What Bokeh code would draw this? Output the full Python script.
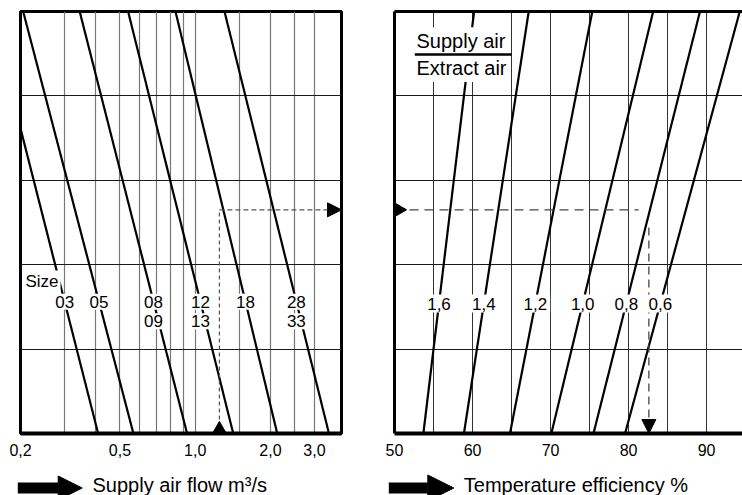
import math
from bokeh.plotting import figure
from bokeh.layouts import row, column
from bokeh.models import FixedTicker, Label, Arrow, NormalHead, LinearAxis, Grid
from bokeh.core.properties import value
from bokeh.embed import file_html
from bokeh.resources import INLINE

# ---------------- data ----------------
# Left chart: supply air flow (m3/s, log axis); vertical axis is unitless 0..5
size_row1 = ["03", "05", "08", "12", "18", "28"]
size_row2 = ["", "", "09", "13", "", "33"]
flow_at_top = [0.152, 0.205, 0.345, 0.539, 0.834, 1.31]      # flow where each size line meets the top
flow_at_bottom = [0.409, 0.566, 0.928, 1.42, 2.13, 3.43]     # flow where each size line meets the bottom
flow_ticks = [0.2, 0.5, 1.0, 2.0, 3.0]
flow_tick_labels = ["0,2", "0,5", "1,0", "2,0", "3,0"]
flow_grid = [0.3, 0.4, 0.5, 0.6, 0.7, 0.8, 0.9, 1.0, 1.5, 2.0, 2.5, 3.0]
flow_range = (0.2, 3.85)

# Right chart: temperature efficiency (%) for supply/extract air ratios
ratio_labels = ["1,6", "1,4", "1,2", "1,0", "0,8", "0,6"]
eff_at_top = [60.2, 67.2, 75.35, 83.15, 89.15, 94.25]
eff_at_bottom = [53.7, 58.9, 64.8, 70.1, 75.5, 79.55]
eff_ticks = [50, 60, 70, 80, 90]
eff_grid = [55, 60, 65, 70, 75, 80, 85, 90]
eff_range = (50, 94.6)

level_range = (0, 5)
level_grid = [1, 2, 3, 4]

# worked example (dashed reading lines)
example_flow = 1.25
example_level = 2.65
example_eff_h_end = 81.3
example_eff = 82.6
example_eff_v_start = 2.44

# label rows (vertical position in chart units)
label_row1_y = 1.56
label_row2_y = 1.33
ratio_label_y = 1.54
size_word_y = 1.796
supply_y = 4.647
extract_y = 4.332
fraction_bar_y = 4.49
fraction_bar_x = (52.6, 65.0)

FONT = "Liberation Sans"
H_MAIN = 467
H_TITLE = 28
TOP, BOTTOM = 11, 34
FRAME_H = H_MAIN - TOP - BOTTOM
px_per_level = FRAME_H / (level_range[1] - level_range[0])
W1, W2 = 372, 370


def log_at(xt, xb, y):
    lt, lb = math.log10(xt), math.log10(xb)
    return 10 ** (lb + (lt - lb) * y / level_range[1])


def lin_at(xt, xb, y):
    return xb + (xt - xb) * y / level_range[1]


def style_bottom_axis(ax):
    ax.axis_line_width = 4
    ax.axis_line_color = "black"
    ax.major_tick_line_color = None
    ax.minor_tick_line_color = None
    ax.major_tick_out = 0
    ax.minor_tick_out = 0
    ax.major_tick_in = 0
    ax.minor_tick_in = 0
    ax.major_label_text_font = FONT
    ax.major_label_text_font_size = "16px"
    ax.major_label_text_color = "black"
    ax.major_label_standoff = 10


def border_axis(ax):
    ax.ticker = FixedTicker(ticks=[], minor_ticks=[])
    ax.axis_line_width = 3
    ax.axis_line_color = "black"
    ax.major_tick_line_color = None
    ax.minor_tick_line_color = None
    ax.major_tick_out = 0
    ax.minor_tick_out = 0
    ax.major_tick_in = 0
    ax.minor_tick_in = 0
    ax.major_label_standoff = 0


def add_label(p, x, y, text, size="17px", align="center", x_offset=0, pad=2):
    p.add_layout(Label(x=x, y=y, text=text, x_offset=x_offset, text_align=align,
                       text_baseline="middle", text_font=FONT, text_font_size=size,
                       text_color="black", background_fill_color="white",
                       background_fill_alpha=1.0, padding=pad))


# ---------------- left chart ----------------
p1 = figure(width=W1, height=H_MAIN, x_axis_type="log", x_range=flow_range, y_range=level_range,
            output_backend="svg", toolbar_location=None, y_axis_location=None,
            min_border_left=20, min_border_right=31, min_border_top=TOP, min_border_bottom=BOTTOM)
p1.grid.visible = False
p1.add_layout(Grid(dimension=0, ticker=FixedTicker(ticks=flow_grid), grid_line_color="#777777",
                   grid_line_width=1.2))
p1.add_layout(Grid(dimension=1, ticker=FixedTicker(ticks=level_grid), grid_line_color="#1a1a1a",
                   grid_line_width=1))
p1.outline_line_color = "black"
p1.outline_line_width = 3
p1.outline_line_alpha = 1
p1.xaxis.ticker = FixedTicker(ticks=flow_ticks, minor_ticks=[])
p1.xaxis.major_label_overrides = dict(zip(flow_ticks, flow_tick_labels))
style_bottom_axis(p1.xaxis[0])

n = len(flow_at_top)
p1.segment(x0=flow_at_top, y0=[level_range[1]] * n, x1=flow_at_bottom, y1=[level_range[0]] * n,
           line_color="black", line_width=2.2)

# dashed reading line
p1.line(x=[example_flow, example_flow], y=[level_range[0], example_level],
        line_dash="4 3", line_color="#555555", line_width=1.2)
p1.add_layout(Arrow(x_start=example_flow, y_start=example_level, x_end=flow_range[1], y_end=example_level,
                    line_dash="5 3", line_color="#555555", line_width=1.2,
                    end=NormalHead(size=14, fill_color="black", line_color="black", line_width=1)))
p1.scatter(x=[example_flow], y=[level_range[0] + 4.0 / px_per_level], marker="triangle",
           size=14, fill_color="black", line_color="black")

# size labels (white boxes)
lab1_x = [log_at(t, b, label_row1_y) for t, b in zip(flow_at_top, flow_at_bottom)]
for x, s1, s2 in zip(lab1_x, size_row1, size_row2):
    add_label(p1, x, label_row1_y, s1)
    if s2:
        add_label(p1, x, label_row2_y, s2)
add_label(p1, flow_range[0], size_word_y, "Size", align="left", x_offset=3)

# ---------------- right chart ----------------
p2 = figure(width=W2, height=H_MAIN, x_range=eff_range, y_range=level_range,
            output_backend="svg", toolbar_location=None,
            min_border_left=22, min_border_right=0, min_border_top=TOP, min_border_bottom=BOTTOM)
p2.grid.visible = False
p2.add_layout(Grid(dimension=0, ticker=FixedTicker(ticks=eff_grid), grid_line_color="#333333",
                   grid_line_width=1))
p2.add_layout(Grid(dimension=1, ticker=FixedTicker(ticks=level_grid), grid_line_color="#1a1a1a",
                   grid_line_width=1))
p2.outline_line_color = None
p2.xaxis.ticker = FixedTicker(ticks=eff_ticks, minor_ticks=[])
style_bottom_axis(p2.xaxis[0])
border_axis(p2.yaxis[0])
top_axis = LinearAxis()
border_axis(top_axis)
p2.add_layout(top_axis, "above")

m = len(eff_at_top)
p2.segment(x0=eff_at_top, y0=[level_range[1]] * m, x1=eff_at_bottom, y1=[level_range[0]] * m,
           line_color="black", line_width=2.2)

# dashed reading lines
p2.line(x=[eff_range[0], example_eff_h_end], y=[example_level, example_level],
        line_dash="9 6", line_color="#444444", line_width=1.3)
p2.scatter(x=[eff_range[0] + 4.0 / (348 / (eff_range[1] - eff_range[0]))], y=[example_level],
           marker="triangle", angle=-math.pi / 2, size=14, fill_color="black", line_color="black")
p2.add_layout(Arrow(x_start=example_eff, y_start=example_eff_v_start, x_end=example_eff, y_end=level_range[0],
                    line_dash="8 5", line_color="#444444", line_width=1.3,
                    end=NormalHead(size=14, fill_color="black", line_color="black", line_width=1)))

lab_r_x = [lin_at(t, b, ratio_label_y) for t, b in zip(eff_at_top, eff_at_bottom)]
for x, s in zip(lab_r_x, ratio_labels):
    add_label(p2, x, ratio_label_y, s, pad=3)

add_label(p2, eff_range[0], supply_y, "Supply air", size="20px", align="left", x_offset=19, pad=3)
add_label(p2, eff_range[0], extract_y, "Extract air", size="20px", align="left", x_offset=19, pad=3)
p2.add_layout(Arrow(x_start=fraction_bar_x[0], y_start=fraction_bar_y, x_end=fraction_bar_x[1],
                    y_end=fraction_bar_y, start=None, end=None, line_color="black", line_width=2.5))


# ---------------- axis titles with arrows ----------------
def title_fig(width, arrow_x0, arrow_x1, head, text_x, text):
    q = figure(width=width, height=H_TITLE, x_range=(0, width), y_range=(0, H_TITLE),
               output_backend="svg", toolbar_location=None, x_axis_location=None,
               y_axis_location=None, min_border=0)
    q.min_border_left = q.min_border_right = q.min_border_top = q.min_border_bottom = 0
    q.grid.visible = False
    q.outline_line_color = None
    q.add_layout(Arrow(x_start=arrow_x0, y_start=7.5, x_end=arrow_x1, y_end=7.5,
                       line_width=11, line_color="black",
                       end=NormalHead(size=head, fill_color="black", line_color="black", line_width=1)))
    q.text(x=[text_x], y=[10.6], text=[text], text_align="left", text_baseline="middle",
           text_font=value(FONT), text_font_size="20px", text_color="black")
    return q


q1 = title_fig(W1, 17.3, 81.7, 24, 92, "Supply air flow m³/s")
q2 = title_fig(W2, 16.3, 81.3, 26, 91.3, "Temperature efficiency %")

layout = column(row(p1, p2), row(q1, q2))
open("out.html", "w").write(file_html(layout, INLINE))
